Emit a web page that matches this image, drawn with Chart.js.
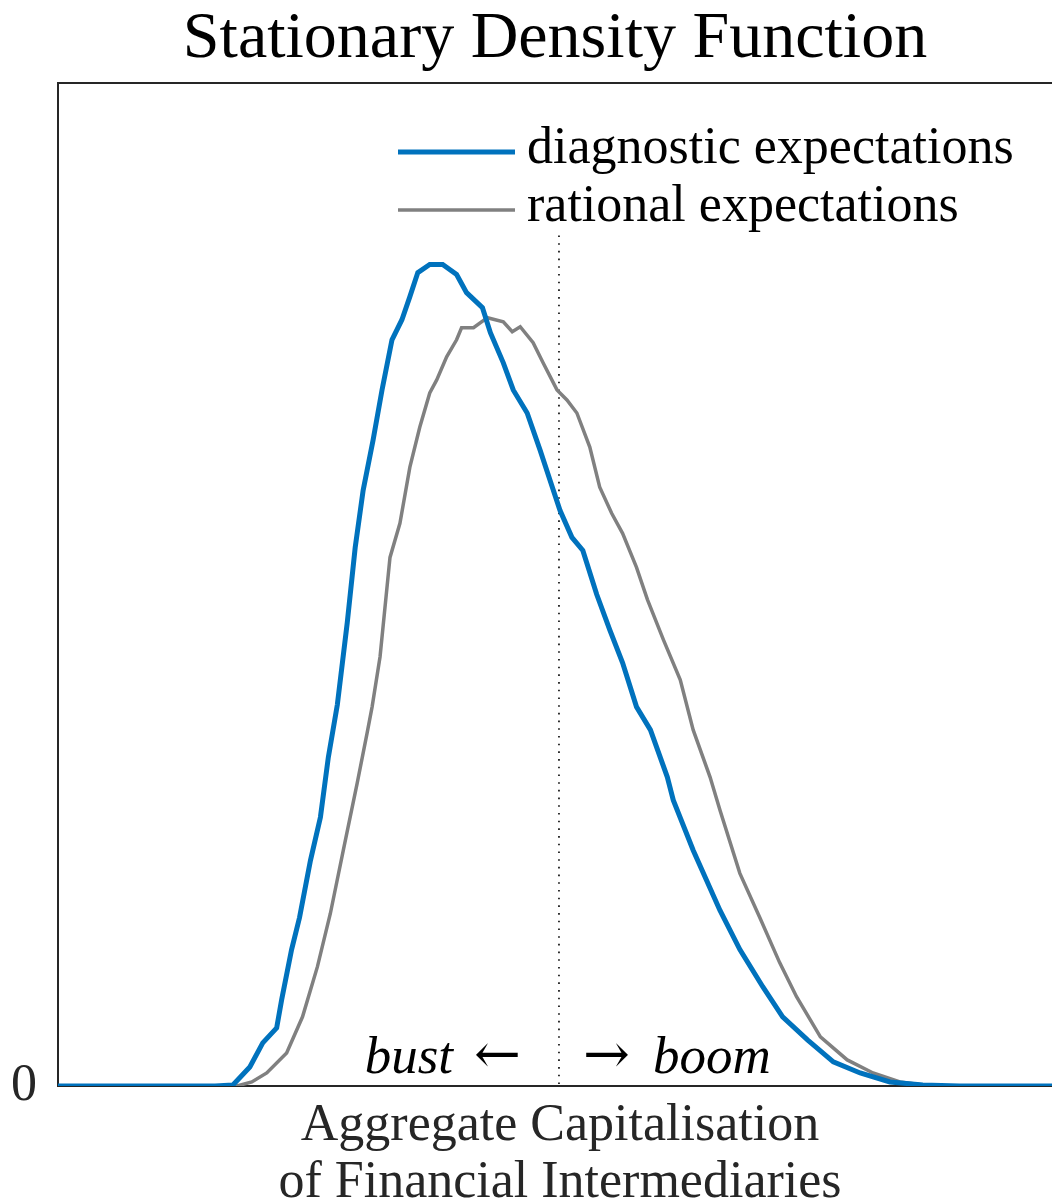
<!DOCTYPE html>
<html>
<head>
<meta charset="utf-8">
<script src="https://cdn.jsdelivr.net/npm/chart.js@4.4.1/dist/chart.umd.min.js"></script>
<style>
  html, body { margin: 0; padding: 0; background: #fff; }
  #wrap { width: 1052px; height: 1201px; }
</style>
</head>
<body>
<div id="wrap"><canvas id="densityChart"></canvas></div>
<script>
// ======================================================
// DATA (x = position along capitalisation axis, 0..100; y = density, 0..100)
// ======================================================
const diagX = [0, 15.8, 17.6, 19.3, 20.6, 22.0, 22.5, 23.5, 24.3, 25.4, 26.4, 27.2, 28.1, 29.1, 29.9, 30.7, 31.7, 32.6, 33.6, 34.6, 35.4, 36.2, 37.4, 38.7, 40.1, 41.1, 42.7, 43.5, 44.8, 45.8, 47.2, 48.5, 49.5, 50.5, 51.7, 52.8, 54.2, 55.5, 56.8, 58.2, 59.6, 61.3, 61.9, 63.9, 66.6, 68.6, 70.9, 72.9, 75.4, 78.0, 80.7, 83.7, 87.0, 90.7, 100];
const diagY = [0, 0, 0.1, 1.9, 4.3, 5.8, 8.6, 13.6, 16.8, 22.5, 26.8, 32.8, 38.0, 46.2, 53.7, 59.4, 64.4, 69.4, 74.4, 76.4, 78.7, 81.1, 81.9, 81.9, 80.9, 79.1, 77.6, 75.1, 72.1, 69.4, 67.1, 63.4, 60.4, 57.4, 54.7, 53.4, 49.0, 45.5, 42.2, 37.8, 35.5, 30.8, 28.5, 23.5, 17.5, 13.6, 9.9, 6.9, 4.6, 2.4, 1.3, 0.4, 0.1, 0, 0];

const ratX = [0, 16.8, 18.0, 19.5, 21.0, 23.0, 24.6, 26.1, 27.4, 28.7, 30.1, 31.1, 31.6, 32.4, 33.4, 34.4, 35.4, 36.4, 37.4, 38.1, 39.1, 40.1, 40.6, 41.8, 43.2, 44.8, 45.7, 46.5, 47.8, 48.8, 50.2, 51.2, 52.2, 53.5, 54.5, 55.7, 56.8, 58.2, 59.3, 60.9, 62.6, 63.9, 65.6, 66.6, 68.6, 70.6, 72.6, 74.3, 76.7, 79.4, 82.0, 84.7, 87.0, 89.7, 100];
const ratY = [0, 0, 0, 0.4, 1.3, 3.3, 6.9, 11.9, 17.2, 23.5, 30.2, 35.2, 37.8, 42.8, 52.7, 56.1, 61.7, 65.7, 69.1, 70.4, 72.7, 74.4, 75.6, 75.6, 76.6, 76.2, 75.2, 75.7, 74.1, 72.1, 69.4, 68.4, 67.1, 63.7, 59.7, 57.1, 55.1, 51.7, 48.5, 44.5, 40.5, 35.5, 30.8, 27.5, 21.2, 16.8, 12.3, 8.9, 4.9, 2.6, 1.3, 0.4, 0.1, 0, 0];

// steady state marker (dotted line)
const steadyX = [50.4, 50.4];
const steadyY = [84.8, 0];

const seriesLabels = ['diagnostic expectations', 'rational expectations'];
const titleText = 'Stationary Density Function';
const xLabelLines = ['Aggregate Capitalisation', 'of Financial Intermediaries'];
const yTickLabels = ['0'];
const bustWord = 'bust';
const boomWord = 'boom';
const leftArrow = '\u2190';
const rightArrow = '\u2192';

const SERIF = '"Liberation Serif", "DejaVu Serif", serif';
const ARROW_FONT = '"DejaVu Serif", serif';
const AXIS_COLOR = '#262626';

const toPoints = (xs, ys) => xs.map((x, i) => ({ x, y: ys[i] }));

// ======================================================
// LEGEND, LABELS, TOP BORDER
// ======================================================
const decorPlugin = {
  id: 'decor',
  afterDraw(chart) {
    const { ctx, chartArea, scales } = chart;
    ctx.save();

    // top border of the box
    ctx.strokeStyle = AXIS_COLOR;
    ctx.lineWidth = 2;
    ctx.beginPath();
    ctx.moveTo(chartArea.left - 1, chartArea.top);
    ctx.lineTo(chartArea.right, chartArea.top);
    ctx.stroke();

    // legend
    const legendX = 398, legendY = 152, rowGap = 58;
    chart.data.datasets.forEach((ds, i) => {
      if (!ds.showInLegend) return;
      const y = legendY + i * rowGap;
      ctx.strokeStyle = ds.borderColor;
      ctx.lineWidth = ds.borderWidth;
      ctx.beginPath();
      ctx.moveTo(legendX, y);
      ctx.lineTo(legendX + 117, y);
      ctx.stroke();
      ctx.fillStyle = '#000';
      ctx.font = `52px ${SERIF}`;
      ctx.textAlign = 'left';
      ctx.textBaseline = 'alphabetic';
      ctx.fillText(ds.label, legendX + 129, y + 11);
    });

    // bust / boom annotation around the dotted line
    const midPx = scales.x.getPixelForValue(steadyX[0]);
    const baseY = chartArea.bottom - 13;
    ctx.fillStyle = '#000';
    ctx.textBaseline = 'alphabetic';
    ctx.font = `italic 53px ${SERIF}`;
    ctx.textAlign = 'right';
    ctx.fillText(bustWord, midPx - 106, baseY);
    ctx.textAlign = 'left';
    ctx.fillText(boomWord, midPx + 94, baseY);
    ctx.font = `56px ${ARROW_FONT}`;
    ctx.textAlign = 'right';
    ctx.fillText(leftArrow, midPx - 38, baseY);
    ctx.textAlign = 'left';
    ctx.fillText(rightArrow, midPx + 24, baseY);

    // x axis label, centred on the full axes box
    ctx.fillStyle = AXIS_COLOR;
    ctx.font = `52px ${SERIF}`;
    ctx.textAlign = 'center';
    xLabelLines.forEach((line, i) => {
      ctx.fillText(line, 560, chartArea.bottom + 54 + i * 57);
    });

    ctx.restore();
  }
};

window.onload = () => {
  const ctx = document.getElementById('densityChart');
  new Chart(ctx, {
    type: 'line',
    data: {
      datasets: [
        {
          label: seriesLabels[0],
          data: toPoints(diagX, diagY),
          borderColor: '#0072BD',
          borderWidth: 5,
          pointRadius: 0,
          tension: 0,
          showInLegend: true
        },
        {
          label: seriesLabels[1],
          data: toPoints(ratX, ratY),
          borderColor: '#808080',
          borderWidth: 3.5,
          pointRadius: 0,
          tension: 0,
          showInLegend: true
        },
        {
          label: 'steady state',
          data: toPoints(steadyX, steadyY),
          borderColor: '#000',
          borderWidth: 1.6,
          borderDash: [1.6, 6.1],
          pointRadius: 0,
          showInLegend: false
        }
      ]
    },
    options: {
      responsive: true,
      maintainAspectRatio: false,
      animation: false,
      layout: { padding: 0 },
      scales: {
        x: {
          type: 'linear',
          min: 0,
          max: 100,
          grid: { display: false },
          ticks: { display: false },
          border: { display: true, color: AXIS_COLOR, width: 2 },
          afterFit: (scale) => { scale.height = 115; }
        },
        y: {
          type: 'linear',
          min: 0,
          max: 100,
          grid: { display: false },
          border: { display: true, color: AXIS_COLOR, width: 2 },
          ticks: {
            color: AXIS_COLOR,
            font: { family: SERIF, size: 52 },
            padding: 13,
            autoSkip: false,
            callback: (v) => (v === 0 ? yTickLabels[0] : '')
          },
          afterFit: (scale) => { scale.width = 58; }
        }
      },
      plugins: {
        legend: { display: false },
        tooltip: { enabled: false },
        title: {
          display: true,
          text: titleText,
          fullSize: false,
          color: '#000',
          font: { family: SERIF, size: 66, weight: 'normal', lineHeight: 1.2 },
          padding: { top: 0, bottom: 3.8 }
        }
      }
    },
    plugins: [decorPlugin]
  });
};
</script>
</body>
</html>
